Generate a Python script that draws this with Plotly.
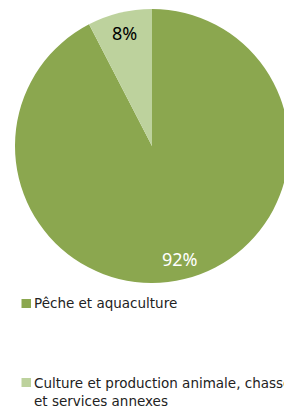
import math
import plotly.graph_objects as go

labels = ["Pêche et aquaculture", "Culture et production animale, chasse<br>et services annexes"]
values = [92.4, 7.6]
colors = ["#8BA74F", "#BDD29D"]
text_colors = ["white", "black"]

W, H = 300, 407
L, T, S = 15, 9, 274  # pie box left, top, size (px)
R_ = W - L - S
B = H - T - S


def px(x):
    return (x - L) / S


def py(y):
    return (T + S - y) / S


fig = go.Figure(go.Pie(
    labels=labels, values=values, sort=False, direction="clockwise", rotation=0,
    marker=dict(colors=colors, line=dict(width=0)), textinfo="none",
    hoverinfo="label+percent", showlegend=False,
))

annotations = []
total = sum(values)
cum = 0
for v, c in zip(values, text_colors):
    mid = (cum + v / 2) / total * 2 * math.pi
    cum += v
    annotations.append(dict(
        x=0.5 + 0.85 * 0.5 * math.sin(mid), y=0.5 + 0.85 * 0.5 * math.cos(mid),
        xref="paper", yref="paper", text=f"{round(v / total * 100)}%", showarrow=False,
        font=dict(family="Noto Sans", size=18, color=c), xanchor="center", yanchor="middle",
    ))

shapes = []
legend_y = [303.5, 382.5]
text_y = [303, 391.5]
for lab, col, ly, ty in zip(labels, colors, legend_y, text_y):
    shapes.append(dict(type="rect", xref="paper", yref="paper",
                       x0=px(21.5), x1=px(31), y0=py(ly + 4.5), y1=py(ly - 4.5),
                       fillcolor=col, line=dict(width=0)))
    annotations.append(dict(x=px(32), y=py(ty), xref="paper", yref="paper", text=lab,
                            showarrow=False, align="left", xanchor="left", yanchor="middle",
                            font=dict(family="DejaVu Sans", size=13.5, color="#222222")))

fig.update_layout(
    width=W, height=H, autosize=False,
    margin=dict(l=L, r=R_, t=T, b=B, pad=0),
    paper_bgcolor="white", plot_bgcolor="white",
    annotations=annotations, shapes=shapes,
)

fig.write_html("out.html", config={"displayModeBar": False},
               post_script="document.body.style.margin='0';document.body.style.overflow='hidden';document.documentElement.style.overflow='hidden';")
